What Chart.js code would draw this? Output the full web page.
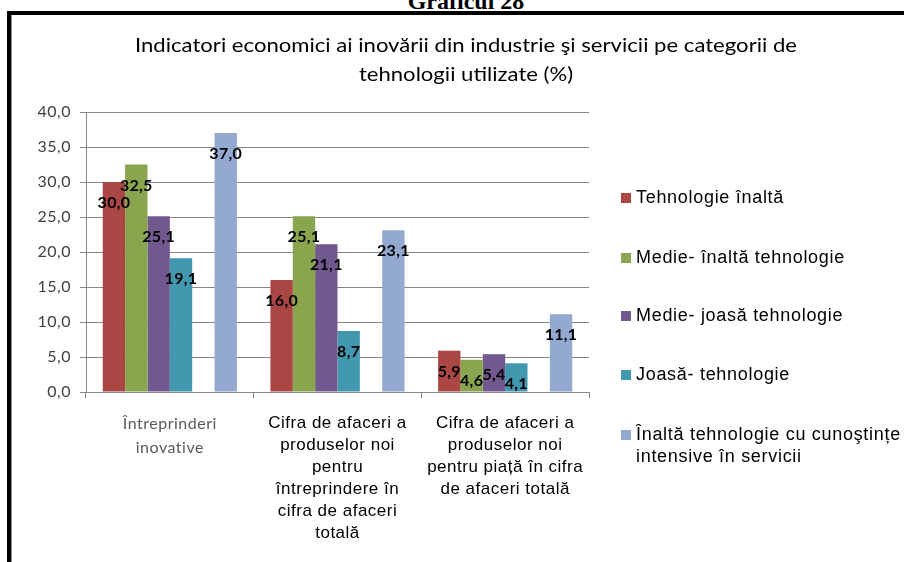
<!DOCTYPE html>
<html>
<head>
<meta charset="utf-8">
<script src="https://cdn.jsdelivr.net/npm/chart.js@4"></script>
<style>
  html, body { margin: 0; padding: 0; background: #fff; }
  #wrap { position: relative; width: 904px; height: 562px; overflow: hidden; }
  #hdr { position: absolute; top: -12px; left: 0; width: 932px; text-align: center;
         font: bold 24px "Liberation Serif", serif; color: #000; }
  #frameTop { position: absolute; left: 7px; top: 11px; width: 897px; height: 4px; background: #000; }
  #frameLeft { position: absolute; left: 7px; top: 11px; width: 4px; height: 551px; background: #000; }
  #frameShade { position: absolute; left: 11px; top: 15px; width: 1px; height: 547px; background: #999; }
  canvas { position: absolute; left: 0; top: 0; }
</style>
</head>
<body>
<div id="wrap">
  <div id="hdr">Graficul 28</div>
  <div id="frameTop"></div>
  <div id="frameLeft"></div>
  <div id="frameShade"></div>
  <canvas id="grafic" width="904" height="562"></canvas>
</div>
<script>
const categorii = [
    ['Întreprinderi', 'inovative'],
    ['Cifra de afaceri a', 'produselor noi', 'pentru', 'întreprindere în', 'cifra de afaceri', 'totală'],
    ['Cifra de afaceri a', 'produselor noi', 'pentru piață în cifra', 'de afaceri totală']
];
const tehnologieInalta = [30.0, 16.0, 5.9];
const medieInalta = [32.5, 25.1, 4.6];
const medieJoasa = [25.1, 21.1, 5.4];
const joasa = [19.1, 8.7, 4.1];
const gol = [null, null, null];
const inaltaCunostinte = [37.0, 23.1, 11.1];

const titlu = [
    'Indicatori economici ai inovării din industrie şi servicii pe categorii de',
    'tehnologii utilizate (%)'
];

const seturi = [
    { label: ['Tehnologie înaltă'], data: tehnologieInalta, backgroundColor: '#AA4643' },
    { label: ['Medie- înaltă tehnologie'], data: medieInalta, backgroundColor: '#89A54E' },
    { label: ['Medie- joasă tehnologie'], data: medieJoasa, backgroundColor: '#71588F' },
    { label: ['Joasă- tehnologie'], data: joasa, backgroundColor: '#4198AF' },
    { label: null, data: gol, backgroundColor: '#DB843D' },
    { label: ['Înaltă tehnologie cu cunoştințe', 'intensive în servicii'], data: inaltaCunostinte, backgroundColor: '#93A9CF' }
];

function virgula(v) {
    return v.toFixed(1).replace('.', ',');
}

// textul din original e putin latit, il imitam cu spatiere
const spatiere = {
    id: 'spatiere',
    beforeLayout(chart) { chart.ctx.letterSpacing = '0.5px'; },
    beforeDraw(chart) { chart.ctx.letterSpacing = '0.5px'; }
};

// titlul, etichetele de date si legenda sunt desenate de mana
const desen = {
    id: 'desen',
    afterDatasetsDraw(chart) {
        const ctx = chart.ctx;
        ctx.save();
        ctx.letterSpacing = '0.3px';
        ctx.fillStyle = '#000';
        ctx.font = 'bold 16px Lato';
        ctx.textAlign = 'center';
        ctx.textBaseline = 'middle';
        chart.data.datasets.forEach((ds, i) => {
            const meta = chart.getDatasetMeta(i);
            meta.data.forEach((bar, j) => {
                const v = ds.data[j];
                if (v == null) return;
                ctx.fillText(virgula(v), bar.x, bar.y + 21);
            });
        });
        ctx.restore();
    },
    afterDraw(chart) {
        const ctx = chart.ctx;
        ctx.save();
        ctx.letterSpacing = '0px';
        ctx.fillStyle = '#000';
        ctx.font = '19px Lato';
        ctx.textAlign = 'center';
        ctx.textBaseline = 'middle';
        const sx = 662 / ctx.measureText(titlu[0]).width;
        [46, 75].forEach((y, n) => {
            ctx.save();
            ctx.translate(466, y);
            ctx.scale(sx, 1);
            ctx.fillText(titlu[n], 0, 0);
            ctx.restore();
        });

        ctx.letterSpacing = '0.7px';
        ctx.font = '18px "Liberation Sans"';
        ctx.textAlign = 'left';
        const yLeg = [198, 258, 316, 375, 435];
        let k = 0;
        chart.data.datasets.forEach(ds => {
            if (!ds.label) return;
            const y = yLeg[k++];
            ctx.fillStyle = ds.backgroundColor;
            ctx.fillRect(621, y - 5, 10, 10);
            ctx.fillStyle = '#000';
            ds.label.forEach((t, n) => ctx.fillText(t, 636, y + n * 22));
        });
        ctx.restore();
    }
};

new Chart(document.getElementById('grafic'), {
    type: 'bar',
    data: {
        labels: categorii,
        datasets: seturi
    },
    options: {
        responsive: false,
        animation: false,
        layout: { padding: { left: 14, right: 315, top: 112, bottom: 0 } },
        datasets: { bar: { categoryPercentage: 0.8, barPercentage: 1.0 } },
        plugins: {
            legend: { display: false },
            title: { display: false },
            tooltip: { enabled: false }
        },
        scales: {
            x: {
                afterFit(scale) { scale.height = 170; },
                grid: { drawOnChartArea: false, drawTicks: true, tickLength: 6, color: '#868686' },
                border: { color: '#868686' },
                ticks: {
                    maxRotation: 0,
                    autoSkip: false,
                    padding: 14,
                    color: ctx => ctx.index === 0 ? '#595959' : '#000',
                    font: ctx => ctx.index === 0
                        ? { family: 'Lato', size: 16, lineHeight: 1.5 }
                        : { family: 'Liberation Sans', size: 17, lineHeight: 1.3 }
                }
            },
            y: {
                min: 0,
                max: 40,
                afterFit(scale) { scale.width = 72; },
                grid: { color: '#868686', tickLength: 6 },
                border: { color: '#868686' },
                ticks: {
                    stepSize: 5,
                    padding: 9,
                    color: '#404040',
                    font: { family: 'Lato', size: 16 },
                    callback: v => virgula(v)
                }
            }
        }
    },
    plugins: [spatiere, desen]
});
</script>
</body>
</html>
